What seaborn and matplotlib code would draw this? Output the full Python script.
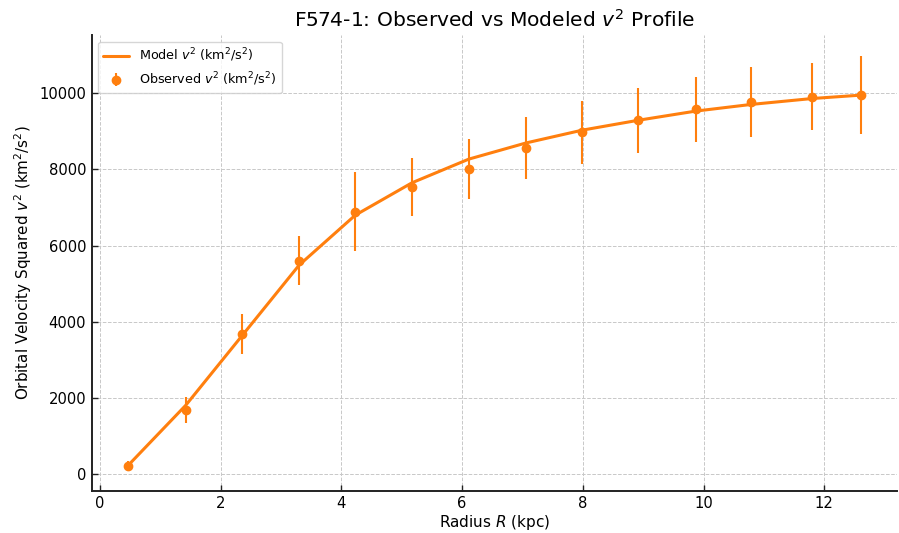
import numpy as np
import pandas as pd
import matplotlib
matplotlib.use("Agg")
import matplotlib.pyplot as plt
import seaborn as sns

radius = [0.47, 1.42, 2.36, 3.30, 4.23, 5.17, 6.11, 7.06, 7.99, 8.92, 9.87, 10.79, 11.80, 12.60]
v2_obs = [230, 1690, 3690, 5610, 6895, 7540, 8000, 8565, 8975, 9285, 9580, 9765, 9905, 9950]
v2_err = [120, 350, 525, 650, 1030, 760, 787, 814, 831, 845, 857, 910, 875, 1028]
v2_model = [240, 1810, 3650, 5490, 6800, 7650, 8270, 8695, 9030, 9290, 9530, 9705, 9860, 9948]

color = "#ff7f0e"

sns.set_style("white")
plt.rcParams["font.family"] = ["DejaVu Sans"]
plt.rcParams["text.color"] = "black"
plt.rcParams["axes.labelcolor"] = "black"

fig = plt.figure(figsize=(8.99, 5.33), dpi=100)
ax = fig.add_axes([0.102, 0.079, 0.896, 0.855])

df_model = pd.DataFrame({"R": radius, "v2": v2_model})
sns.lineplot(data=df_model, x="R", y="v2", ax=ax, color=color, linewidth=2.2,
             label=r"Model $v^2$ (km$^2$/s$^2$)")
ax.errorbar(radius, v2_obs, yerr=v2_err, fmt="o", color=color, markersize=6,
            elinewidth=1.5, capsize=0, label=r"Observed $v^2$ (km$^2$/s$^2$)", zorder=3)

ax.grid(True, linestyle="--", color="#c8c8c8", linewidth=0.7)
ax.set_axisbelow(True)
for s in ["top", "right"]:
    ax.spines[s].set_visible(False)
for s in ["left", "bottom"]:
    ax.spines[s].set_color("#222222")
    ax.spines[s].set_linewidth(1.4)
ax.tick_params(axis="both", labelsize=10.6, direction="in", length=4, width=1, colors="#222222",
               labelcolor="black", pad=4, bottom=True, left=True)
ax.set_xticks([0, 2, 4, 6, 8, 10, 12])
ax.set_yticks([0, 2000, 4000, 6000, 8000, 10000])

ax.set_xlabel(r"Radius $R$ (kpc)", fontsize=11, labelpad=1, color="black")
ax.set_ylabel(r"Orbital Velocity Squared $v^2$ (km$^2$/s$^2$)", fontsize=10.9, labelpad=4, color="black")
ax.set_title(r"F574-1: Observed vs Modeled $v^2$ Profile", fontsize=14.6, color="black")
leg = ax.legend(loc="upper left", fontsize=9.2, frameon=True)
for t in leg.get_texts():
    t.set_color("black")

fig.savefig("out.png", dpi=100)
